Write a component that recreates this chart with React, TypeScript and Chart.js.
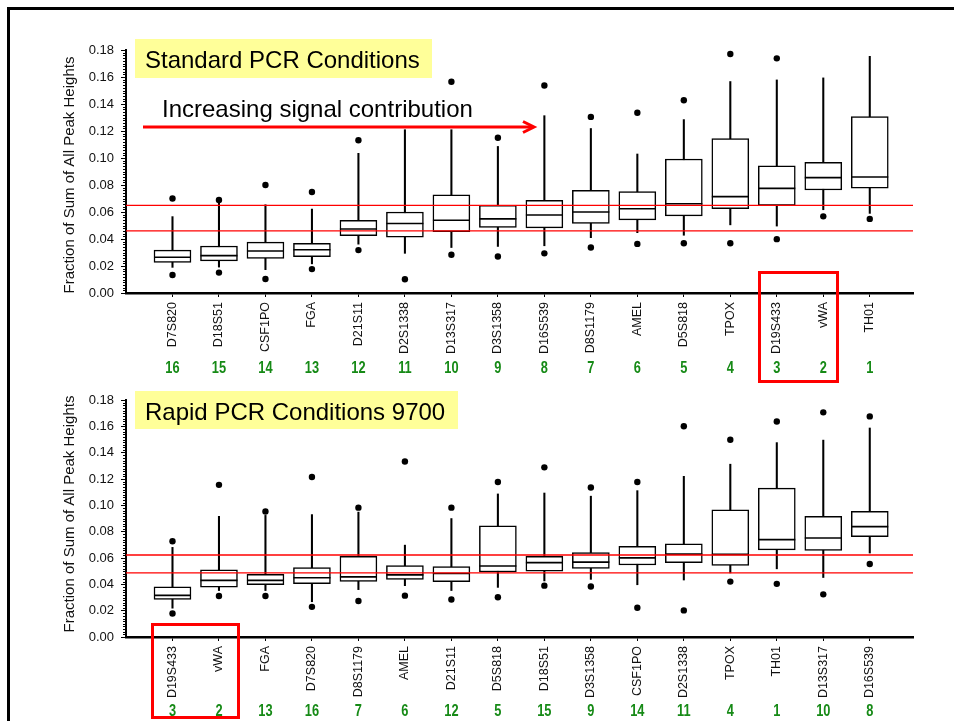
import React, { useEffect, useRef } from 'react';
import { Chart, registerables } from 'chart.js';

Chart.register(...registerables);

const FONT = '"Liberation Sans", Arial, sans-serif';

// ---- Standard PCR conditions ----
const stdLabels = ['D7S820', 'D18S51', 'CSF1PO', 'FGA', 'D21S11', 'D2S1338', 'D13S317', 'D3S1358', 'D16S539', 'D8S1179', 'AMEL', 'D5S818', 'TPOX', 'D19S433', 'vWA', 'TH01'];
const stdRank = [16, 15, 14, 13, 12, 11, 10, 9, 8, 7, 6, 5, 4, 3, 2, 1];
const stdWhiskerLow = [0.019, 0.0192, 0.0173, 0.0216, 0.0362, 0.0294, 0.0337, 0.0345, 0.035, 0.041, 0.0447, 0.0428, 0.0505, 0.0496, 0.0617, 0.059];
const stdQ1 = [0.0226, 0.0238, 0.0257, 0.027, 0.0425, 0.0413, 0.0454, 0.0486, 0.0483, 0.0515, 0.0542, 0.0571, 0.0624, 0.0649, 0.0763, 0.0777];
const stdMedian = [0.0265, 0.0277, 0.0311, 0.0321, 0.0474, 0.0515, 0.0539, 0.0549, 0.0578, 0.06, 0.0624, 0.0661, 0.0714, 0.0775, 0.0855, 0.086];
const stdQ3 = [0.0318, 0.0348, 0.0377, 0.0369, 0.0539, 0.06, 0.0727, 0.0649, 0.0687, 0.076, 0.0751, 0.0993, 0.1144, 0.0942, 0.0969, 0.1307];
const stdWhiskerHigh = [0.0566, 0.0665, 0.0654, 0.0622, 0.1035, 0.121, 0.121, 0.1086, 0.1314, 0.1219, 0.103, 0.1285, 0.1567, 0.1579, 0.1594, 0.1754];
const stdOutHigh = [0.07, 0.069, 0.08, 0.0748, 0.1132, null, 0.1565, 0.1151, 0.1538, 0.1305, 0.1336, 0.1428, 0.1771, 0.1739, null, null];
const stdOutLow = [0.0133, 0.0151, 0.0104, 0.0177, 0.0318, 0.0102, 0.0284, 0.027, 0.0294, 0.0337, 0.0364, 0.0369, 0.0369, 0.0399, 0.0568, 0.0549];
const stdBand = [0.046, 0.065];

// ---- Rapid PCR conditions (9700) ----
const rapidLabels = ['D19S433', 'vWA', 'FGA', 'D7S820', 'D8S1179', 'AMEL', 'D21S11', 'D5S818', 'D18S51', 'D3S1358', 'CSF1PO', 'D2S1338', 'TPOX', 'TH01', 'D13S317', 'D16S539'];
const rapidRank = [3, 2, 13, 16, 7, 6, 12, 5, 15, 9, 14, 11, 4, 1, 10, 8];
const rapidWhiskerLow = [0.0219, 0.0353, 0.0353, 0.0268, 0.036, 0.039, 0.0353, 0.0377, 0.0426, 0.0438, 0.0397, 0.0433, 0.0487, 0.0518, 0.0452, 0.0638];
const rapidQ1 = [0.0285, 0.0379, 0.0397, 0.0406, 0.0423, 0.0438, 0.0421, 0.0494, 0.0501, 0.0521, 0.0547, 0.0565, 0.0543, 0.0662, 0.0657, 0.0762];
const rapidMedian = [0.0316, 0.043, 0.043, 0.045, 0.0457, 0.0472, 0.0482, 0.054, 0.0565, 0.0569, 0.0601, 0.063, 0.0628, 0.074, 0.0752, 0.0839];
const rapidQ3 = [0.0382, 0.0511, 0.0477, 0.0528, 0.0613, 0.0543, 0.0535, 0.0844, 0.0613, 0.0642, 0.0689, 0.0708, 0.0966, 0.1131, 0.0917, 0.0954];
const rapidWhiskerHigh = [0.0681, 0.0917, 0.0924, 0.093, 0.0949, 0.0698, 0.09, 0.1087, 0.1094, 0.107, 0.1112, 0.1221, 0.1313, 0.1477, 0.1496, 0.1588];
const rapidOutHigh = [0.0727, 0.1156, 0.0954, 0.1216, 0.0983, 0.1333, 0.0983, 0.1178, 0.1289, 0.1136, 0.1178, 0.1601, 0.1499, 0.1637, 0.1707, 0.1676];
const rapidOutLow = [0.0178, 0.0312, 0.0312, 0.0229, 0.0273, 0.0314, 0.0285, 0.0302, 0.039, 0.0384, 0.0222, 0.0202, 0.0421, 0.0404, 0.0324, 0.0555];
const rapidBand = [0.0487, 0.0623];

const yTicks = [0, 0.02, 0.04, 0.06, 0.08, 0.1, 0.12, 0.14, 0.16, 0.18];
const Y_TITLE = 'Fraction of Sum of All Peak Heights';
const X_MAX = 16.93;

type Panel = {
  title: string;
  titleBoxW: number;
  subtitle?: string;
  labels: string[];
  rank: number[];
  lo: number[];
  q1: number[];
  med: number[];
  q3: number[];
  hi: number[];
  outHigh: (number | null)[];
  outLow: (number | null)[];
  band: number[];
  padTop: number;
  xAxisHeight: number;
  titleTop: number;
  titleBoxH: number;
  titleBaseline: number;
  yTitleCenter: number;
  rankBaseline: number;
};

function makeChart(canvas: HTMLCanvasElement, p: Panel) {
  const xs = p.labels.map((_, i) => i + 1);
  const pair = (a: number[], b: number[]) => xs.map((x, i) => ({ x, y: [a[i], b[i]] }));
  const pts = (vals: (number | null)[]) =>
    vals.flatMap((v, i) => (v == null ? [] : [{ x: i + 1, y: v }]));
  const refLine = (v: number) => [{ x: 0, y: v }, { x: X_MAX, y: v }];

  const decor = {
    id: 'panelDecor',
    afterDraw(chart: any) {
      const ctx: CanvasRenderingContext2D = chart.ctx;
      const area = chart.chartArea;
      const ys = chart.scales.y;
      const xsc = chart.scales.x;
      ctx.save();

      // minor ticks on the value axis
      ctx.strokeStyle = '#000';
      ctx.lineWidth = 1;
      for (let k = 1; k < 90; k++) {
        if (k % 10 === 0) continue;
        const y = Math.round(ys.getPixelForValue(k * 0.002)) + 0.5;
        ctx.beginPath();
        ctx.moveTo(area.left - 3, y);
        ctx.lineTo(area.left, y);
        ctx.stroke();
      }

      // value axis title
      ctx.save();
      ctx.translate(62, p.yTitleCenter);
      ctx.rotate(-Math.PI / 2);
      ctx.fillStyle = '#111';
      ctx.font = `15px ${FONT}`;
      ctx.textAlign = 'center';
      ctx.textBaseline = 'middle';
      ctx.fillText(Y_TITLE, 0, 0);
      ctx.restore();

      // contribution rank under each locus (condensed bold digits)
      ctx.fillStyle = '#168a16';
      ctx.font = `bold 16px ${FONT}`;
      ctx.textAlign = 'center';
      ctx.textBaseline = 'alphabetic';
      p.rank.forEach((r, i) => {
        ctx.save();
        ctx.translate(xsc.getPixelForValue(i + 1), p.rankBaseline);
        ctx.scale(0.8, 1);
        ctx.fillText(String(r), 0, 0);
        ctx.restore();
      });

      // panel title on a yellow box
      ctx.fillStyle = '#ffff99';
      ctx.fillRect(127, p.titleTop, p.titleBoxW, p.titleBoxH);
      ctx.fillStyle = '#000';
      ctx.font = `24px ${FONT}`;
      ctx.textAlign = 'left';
      ctx.fillText(p.title, 137, p.titleBaseline);

      if (p.subtitle) {
        ctx.fillText(p.subtitle, 154, 87);
        ctx.strokeStyle = '#ff0000';
        ctx.lineWidth = 3;
        ctx.beginPath();
        ctx.moveTo(135, 97);
        ctx.lineTo(525, 97);
        ctx.stroke();
        ctx.beginPath();
        ctx.moveTo(515, 91.5);
        ctx.lineTo(526, 97);
        ctx.lineTo(515, 102.5);
        ctx.stroke();
      }
      ctx.restore();
    },
  };

  return new Chart(canvas, {
    type: 'bar',
    data: {
      datasets: [
        { type: 'line', data: refLine(p.band[1]), borderColor: '#ff0000', borderWidth: 1.3, pointRadius: 0, order: 0 },
        { type: 'line', data: refLine(p.band[0]), borderColor: '#ff0000', borderWidth: 1.3, pointRadius: 0, order: 0 },
        {
          type: 'scatter',
          data: [...pts(p.outHigh), ...pts(p.outLow)],
          pointRadius: 3.2,
          backgroundColor: '#000',
          borderWidth: 0,
          order: 1,
        },
        {
          type: 'scatter',
          data: pts(p.med),
          pointStyle: 'line',
          pointRadius: 18.5,
          borderColor: '#000',
          borderWidth: 1.6,
          order: 2,
        },
        {
          type: 'bar',
          data: pair(p.q1, p.q3),
          backgroundColor: '#fff',
          borderColor: '#000',
          borderWidth: 1.5,
          borderSkipped: false,
          barThickness: 37,
          grouped: false,
          order: 3,
        },
        {
          type: 'bar',
          data: pair(p.lo, p.hi),
          backgroundColor: '#000',
          borderWidth: 0,
          barThickness: 1.4,
          grouped: false,
          order: 4,
        },
      ] as any,
    },
    options: {
      responsive: false,
      animation: false,
      events: [],
      layout: { padding: { top: p.padTop, right: 41, left: 0, bottom: 0 } },
      plugins: { legend: { display: false }, tooltip: { enabled: false } },
      scales: {
        x: {
          type: 'linear',
          min: 0,
          max: X_MAX,
          offset: false,
          afterBuildTicks: (s: any) => {
            s.ticks = xs.map((v) => ({ value: v }));
          },
          afterFit: (s: any) => {
            s.height = p.xAxisHeight;
          },
          ticks: {
            autoSkip: false,
            minRotation: 90,
            maxRotation: 90,
            padding: 5,
            color: '#111',
            font: { family: FONT, size: 12.5 },
            callback: (v: any) => p.labels[Number(v) - 1] ?? '',
          },
          grid: { drawOnChartArea: false, drawTicks: true, tickLength: 4, tickColor: '#000', tickWidth: 1, offset: false },
          border: { display: true, color: '#000', width: 2.5 },
        },
        y: {
          min: 0,
          max: 0.18,
          afterBuildTicks: (s: any) => {
            s.ticks = yTicks.map((v) => ({ value: v }));
          },
          afterFit: (s: any) => {
            s.width = 118;
          },
          ticks: {
            padding: 7,
            color: '#111',
            font: { family: FONT, size: 13 },
            callback: (v: any) => Number(v).toFixed(2),
          },
          grid: { drawOnChartArea: false, drawTicks: true, tickLength: 5, tickColor: '#000', tickWidth: 1 },
          border: { display: true, color: '#000', width: 2 },
        },
      },
    } as any,
    plugins: [decor],
  });
}

const standardPanel: Panel = {
  title: 'Standard PCR Conditions',
  titleBoxW: 297,
  subtitle: 'Increasing signal contribution',
  labels: stdLabels,
  rank: stdRank,
  lo: stdWhiskerLow,
  q1: stdQ1,
  med: stdMedian,
  q3: stdQ3,
  hi: stdWhiskerHigh,
  outHigh: stdOutHigh,
  outLow: stdOutLow,
  band: stdBand,
  padTop: 16,
  xAxisHeight: 92,
  titleTop: 9,
  titleBoxH: 39,
  titleBaseline: 38,
  yTitleCenter: 145,
  rankBaseline: 343,
};

const rapidPanel: Panel = {
  title: 'Rapid PCR Conditions 9700',
  titleBoxW: 323,
  labels: rapidLabels,
  rank: rapidRank,
  lo: rapidWhiskerLow,
  q1: rapidQ1,
  med: rapidMedian,
  q3: rapidQ3,
  hi: rapidWhiskerHigh,
  outHigh: rapidOutHigh,
  outLow: rapidOutLow,
  band: rapidBand,
  padTop: 10,
  xAxisHeight: 84,
  titleTop: 11,
  titleBoxH: 38,
  titleBaseline: 40,
  yTitleCenter: 134,
  rankBaseline: 336,
};

export default function App() {
  const topRef = useRef<HTMLCanvasElement>(null);
  const bottomRef = useRef<HTMLCanvasElement>(null);

  useEffect(() => {
    const charts: Chart[] = [];
    if (topRef.current) charts.push(makeChart(topRef.current, standardPanel));
    if (bottomRef.current) charts.push(makeChart(bottomRef.current, rapidPanel));
    return () => charts.forEach((c) => c.destroy());
  }, []);

  return (
    <div style={{ position: 'fixed', left: 0, top: 0, width: 954, height: 721, overflow: 'hidden', background: '#fff' }}>
      <div
        style={{
          position: 'absolute',
          left: 7,
          top: 7,
          width: 960,
          height: 730,
          borderLeft: '3px solid #000',
          borderTop: '3px solid #000',
          boxSizing: 'border-box',
        }}
      />
      <canvas ref={topRef} width={946} height={355} style={{ position: 'absolute', left: 8, top: 30, width: 946, height: 355 }} />
      <canvas ref={bottomRef} width={946} height={341} style={{ position: 'absolute', left: 8, top: 380, width: 946, height: 341 }} />
      <div style={{ position: 'absolute', left: 758, top: 271, width: 81, height: 112, border: '3px solid #ff0000', boxSizing: 'border-box' }} />
      <div style={{ position: 'absolute', left: 151, top: 623, width: 89, height: 96, border: '3px solid #ff0000', boxSizing: 'border-box' }} />
    </div>
  );
}
